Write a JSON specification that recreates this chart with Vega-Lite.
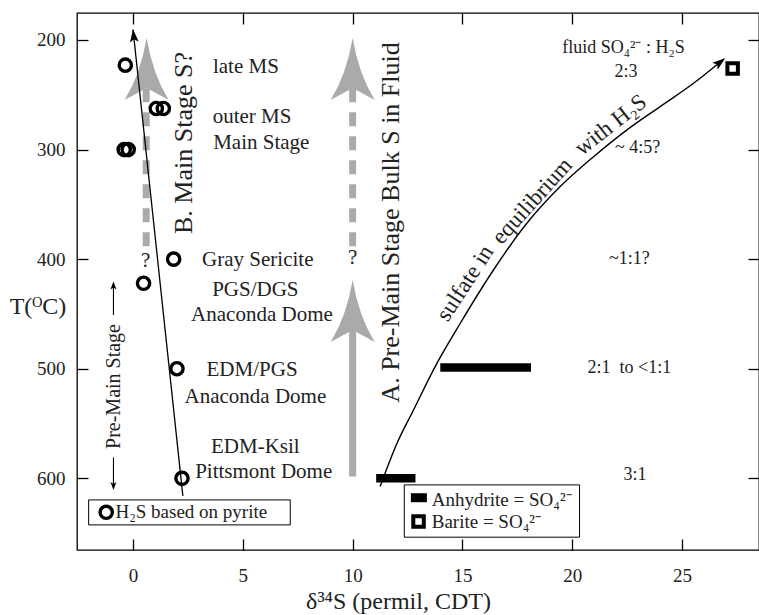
{
  "$schema": "https://vega.github.io/schema/vega-lite/v6.json",
  "width": 682,
  "height": 537,
  "autosize": "none",
  "padding": {"left": 77, "top": 13, "right": 0, "bottom": 65},
  "background": "white",
  "config": {
    "view": {"stroke": "black", "strokeWidth": 1.3},
    "font": "Liberation Serif",
    "axis": {
      "domain": false, "grid": false, "tickColor": "black", "tickWidth": 1.3, "tickSize": -11,
      "labelFont": "Liberation Serif", "labelFontSize": 19, "labelColor": "#222",
      "titleFont": "Liberation Serif", "titleFontWeight": "normal", "titleColor": "#222", "titleFontSize": 24
    }
  },
  "datasets": {
    "dashedShafts": [{"d": 10, "T": 244, "T2": 391.5}, {"d": 0.6, "T": 244, "T2": 390}],
    "solidShafts": [{"d": 10, "T": 464, "T2": 598.3}],
    "grayHeads": [{"d": 10, "T": 198.2}, {"d": 10, "T": 419}, {"d": 0.62, "T": 198.2}],
    "questions": [{"d": 10, "T": 399, "label": "?"}, {"d": 0.58, "T": 402, "label": "?"}],
    "h2sTrend": [{"d": 2.27, "T": 616}, {"d": 0.0, "T": 190.5}],
    "h2sTip": [{"d": 0.0, "T": 190.2}],
    "sulfateCurve": [
      {"d": 11.25, "T": 607.5}, {"d": 12.02, "T": 568}, {"d": 12.77, "T": 537.6}, {"d": 13.84, "T": 494.9},
      {"d": 14.9, "T": 458.5}, {"d": 16.41, "T": 409.9}, {"d": 17.93, "T": 367.3}, {"d": 19.45, "T": 333.8},
      {"d": 20.97, "T": 306.5}, {"d": 22.49, "T": 282}, {"d": 24.0, "T": 260.8}, {"d": 25.52, "T": 239.5},
      {"d": 26.9, "T": 217.3}
    ],
    "sulfateTip": [{"d": 26.96, "T": 216.7}],
    "anhydrite": [{"d": 11.07, "d2": 12.86, "T": 600}, {"d": 13.99, "d2": 18.12, "T": 498.8}],
    "legendBoxes": [{"d": -2.02, "d2": 7.16, "T": 619.7, "T2": 642.5}, {"d": 12.35, "d2": 20.33, "T": 606, "T2": 653.7}],
    "legendAnhydrite": [{"d": 12.65, "d2": 13.38, "T": 613.6, "T2": 621.8}],
    "pyrite": [
      {"d": -0.35, "T": 223}, {"d": 1.06, "T": 262.5}, {"d": 1.38, "T": 262.5}, {"d": -0.4, "T": 300},
      {"d": -0.22, "T": 300}, {"d": 1.85, "T": 400}, {"d": 0.48, "T": 422}, {"d": 2.0, "T": 500}, {"d": 2.23, "T": 600}
    ],
    "legendPyrite": [{"d": -1.22, "T": 631}],
    "barite": [{"d": 27.3, "T": 226}, {"d": 13.0, "T": 639.5}],
    "stageLabels": [
      {"d": 5.14, "T": 224.4, "label": "late MS"},
      {"d": 5.42, "T": 270, "label": "outer MS"},
      {"d": 5.84, "T": 293.7, "label": "Main Stage"},
      {"d": 5.68, "T": 400.7, "label": "Gray Sericite"},
      {"d": 5.57, "T": 428, "label": "PGS/DGS"},
      {"d": 5.87, "T": 451, "label": "Anaconda Dome"},
      {"d": 5.42, "T": 501, "label": "EDM/PGS"},
      {"d": 5.57, "T": 525.5, "label": "Anaconda Dome"},
      {"d": 5.57, "T": 571, "label": "EDM-Ksil"},
      {"d": 5.95, "T": 594, "label": "Pittsmont Dome"}
    ],
    "ratios": [
      {"d": 22.33, "T": 207.6, "label": "fluid SO₄²⁻ : H₂S"},
      {"d": 22.45, "T": 228.9, "label": "2:3"},
      {"d": 22.97, "T": 298.3, "label": "~ 4:5?"},
      {"d": 22.6, "T": 400, "label": "~1:1?"},
      {"d": 22.6, "T": 499.6, "label": "2:1\u00a0\u00a0to <1:1"},
      {"d": 22.85, "T": 597, "label": "3:1"}
    ],
    "legendTexts": [
      {"d": -0.8, "T": 631, "label": "H₂S based on pyrite"},
      {"d": 13.6, "T": 619.7, "label": "Anhydrite = SO₄²⁻"},
      {"d": 13.6, "T": 639.5, "label": "Barite = SO₄²⁻"}
    ],
    "bigVertical": [
      {"d": 12.1, "T": 366.5, "label": "A. Pre-Main Stage Bulk S in Fluid"},
      {"d": 2.68, "T": 294, "label": "B. Main Stage S?"}
    ],
    "preMainText": [{"d": -0.61, "T": 516.2, "label": "Pre-Main Stage"}],
    "preMainLines": [{"d": -0.89, "T": 451, "T2": 422}, {"d": -0.89, "T": 581, "T2": 609}],
    "preMainUp": [{"d": -0.89, "T": 420.5}],
    "preMainDown": [{"d": -0.89, "T": 610.6}],
    "sulf1": [{"d": 15.12, "T": 422, "label": "sulfate in"}],
    "sulf2": [{"d": 18.17, "T": 347, "label": "equilibrium"}],
    "sulf3": [{"d": 21.75, "T": 277.5, "label": "with H₂S"}]
  },
  "resolve": {"axis": {"x": "independent", "y": "independent"}},
  "layer": [
    {
      "data": {"name": "dashedShafts"},
      "mark": {"type": "rule", "color": "#aaaaaa", "strokeWidth": 7, "strokeDash": [14, 10]},
      "encoding": {
        "x": {"field": "d", "type": "quantitative",
              "scale": {"domain": [-2.55, 28.5], "nice": false, "zero": false},
              "axis": {"orient": "bottom", "values": [0, 5, 10, 15, 20, 25], "labelPadding": 27,
                       "title": "δ³⁴S (permil, CDT)", "titleX": 321, "titleY": 58, "titleBaseline": "alphabetic"}},
        "y": {"field": "T", "type": "quantitative",
              "scale": {"domain": [175.4, 665.4], "reverse": true, "nice": false, "zero": false},
              "axis": {"orient": "left", "values": [200, 300, 400, 500, 600], "labelPadding": 23,
                       "title": "T(ᴼC)", "titleAngle": 0, "titleX": -39.5, "titleY": 300, "titleAlign": "center", "titleBaseline": "alphabetic"}},
        "y2": {"field": "T2"}
      }
    },
    {
      "data": {"name": "solidShafts"},
      "mark": {"type": "rule", "color": "#aaaaaa", "strokeWidth": 7},
      "encoding": {
        "x": {"field": "d", "type": "quantitative", "axis": {"orient": "top", "values": [0, 5, 10, 15, 20, 25], "labels": false, "title": null}},
        "y": {"field": "T", "type": "quantitative", "axis": {"orient": "right", "values": [200, 300, 400, 500, 600], "labels": false, "title": null}},
        "y2": {"field": "T2"}
      }
    },
    {
      "data": {"name": "grayHeads"},
      "mark": {"type": "point", "shape": "M0,0 Q6,36 22,62 L0,50 L-22,62 Q-6,36 0,0 Z", "size": 4, "filled": true, "fill": "#aaaaaa", "strokeWidth": 0, "opacity": 1},
      "encoding": {
        "x": {"field": "d", "type": "quantitative", "axis": null},
        "y": {"field": "T", "type": "quantitative", "axis": null}
      }
    },
    {
      "data": {"name": "questions"},
      "mark": {"type": "text", "font": "Liberation Serif", "fontSize": 21, "color": "#222", "align": "center", "baseline": "middle"},
      "encoding": {
        "x": {"field": "d", "type": "quantitative", "axis": null},
        "y": {"field": "T", "type": "quantitative", "axis": null},
        "text": {"field": "label"}
      }
    },
    {
      "data": {"name": "h2sTrend"},
      "mark": {"type": "line", "color": "black", "strokeWidth": 1.3},
      "encoding": {
        "x": {"field": "d", "type": "quantitative", "axis": null},
        "y": {"field": "T", "type": "quantitative", "axis": null}
      }
    },
    {
      "data": {"name": "sulfateCurve"},
      "mark": {"type": "line", "color": "black", "strokeWidth": 1.4, "interpolate": "monotone"},
      "encoding": {
        "x": {"field": "d", "type": "quantitative", "axis": null},
        "y": {"field": "T", "type": "quantitative", "axis": null}
      }
    },
    {
      "data": {"name": "h2sTip"},
      "mark": {"type": "point", "shape": "M0,0 L2.2,6.5 L0,5 L-2.2,6.5 Z", "size": 16, "filled": true, "fill": "black", "strokeWidth": 0, "opacity": 1, "angle": 354},
      "encoding": {
        "x": {"field": "d", "type": "quantitative", "axis": null},
        "y": {"field": "T", "type": "quantitative", "axis": null}
      }
    },
    {
      "data": {"name": "sulfateTip"},
      "mark": {"type": "point", "shape": "M0,0 L2.2,6.5 L0,5 L-2.2,6.5 Z", "size": 16, "filled": true, "fill": "black", "strokeWidth": 0, "opacity": 1, "angle": 52},
      "encoding": {
        "x": {"field": "d", "type": "quantitative", "axis": null},
        "y": {"field": "T", "type": "quantitative", "axis": null}
      }
    },
    {
      "data": {"name": "anhydrite"},
      "mark": {"type": "rule", "color": "black", "strokeWidth": 8.5, "strokeCap": "butt"},
      "encoding": {
        "x": {"field": "d", "type": "quantitative", "axis": null},
        "x2": {"field": "d2"},
        "y": {"field": "T", "type": "quantitative", "axis": null}
      }
    },
    {
      "data": {"name": "legendBoxes"},
      "mark": {"type": "rect", "fill": "white", "stroke": "black", "strokeWidth": 1},
      "encoding": {
        "x": {"field": "d", "type": "quantitative", "axis": null},
        "x2": {"field": "d2"},
        "y": {"field": "T", "type": "quantitative", "axis": null},
        "y2": {"field": "T2"}
      }
    },
    {
      "data": {"name": "legendAnhydrite"},
      "mark": {"type": "rect", "fill": "black"},
      "encoding": {
        "x": {"field": "d", "type": "quantitative", "axis": null},
        "x2": {"field": "d2"},
        "y": {"field": "T", "type": "quantitative", "axis": null},
        "y2": {"field": "T2"}
      }
    },
    {
      "data": {"name": "pyrite"},
      "mark": {"type": "point", "shape": "circle", "filled": false, "stroke": "black", "strokeWidth": 3.4, "size": 150, "opacity": 1},
      "encoding": {
        "x": {"field": "d", "type": "quantitative", "axis": null},
        "y": {"field": "T", "type": "quantitative", "axis": null}
      }
    },
    {
      "data": {"name": "legendPyrite"},
      "mark": {"type": "point", "shape": "circle", "filled": false, "stroke": "black", "strokeWidth": 3.4, "size": 150, "opacity": 1},
      "encoding": {
        "x": {"field": "d", "type": "quantitative", "axis": null},
        "y": {"field": "T", "type": "quantitative", "axis": null}
      }
    },
    {
      "data": {"name": "barite"},
      "mark": {"type": "point", "shape": "square", "filled": false, "stroke": "black", "strokeWidth": 4, "size": 110, "opacity": 1},
      "encoding": {
        "x": {"field": "d", "type": "quantitative", "axis": null},
        "y": {"field": "T", "type": "quantitative", "axis": null}
      }
    },
    {
      "data": {"name": "stageLabels"},
      "mark": {"type": "text", "font": "Liberation Serif", "fontSize": 21, "color": "#222", "align": "center", "baseline": "middle"},
      "encoding": {
        "x": {"field": "d", "type": "quantitative", "axis": null},
        "y": {"field": "T", "type": "quantitative", "axis": null},
        "text": {"field": "label"}
      }
    },
    {
      "data": {"name": "ratios"},
      "mark": {"type": "text", "font": "Liberation Serif", "fontSize": 18, "color": "#222", "align": "center", "baseline": "middle"},
      "encoding": {
        "x": {"field": "d", "type": "quantitative", "axis": null},
        "y": {"field": "T", "type": "quantitative", "axis": null},
        "text": {"field": "label"}
      }
    },
    {
      "data": {"name": "legendTexts"},
      "mark": {"type": "text", "font": "Liberation Serif", "fontSize": 19, "color": "#222", "align": "left", "baseline": "middle"},
      "encoding": {
        "x": {"field": "d", "type": "quantitative", "axis": null},
        "y": {"field": "T", "type": "quantitative", "axis": null},
        "text": {"field": "label"}
      }
    },
    {
      "data": {"name": "bigVertical"},
      "mark": {"type": "text", "font": "Liberation Serif", "fontSize": 26, "color": "#222", "align": "center", "baseline": "alphabetic", "angle": 270},
      "encoding": {
        "x": {"field": "d", "type": "quantitative", "axis": null},
        "y": {"field": "T", "type": "quantitative", "axis": null},
        "text": {"field": "label"}
      }
    },
    {
      "data": {"name": "preMainText"},
      "mark": {"type": "text", "font": "Liberation Serif", "fontSize": 20, "color": "#222", "align": "center", "baseline": "alphabetic", "angle": 270},
      "encoding": {
        "x": {"field": "d", "type": "quantitative", "axis": null},
        "y": {"field": "T", "type": "quantitative", "axis": null},
        "text": {"field": "label"}
      }
    },
    {
      "data": {"name": "preMainLines"},
      "mark": {"type": "rule", "color": "black", "strokeWidth": 1.1},
      "encoding": {
        "x": {"field": "d", "type": "quantitative", "axis": null},
        "y": {"field": "T", "type": "quantitative", "axis": null},
        "y2": {"field": "T2"}
      }
    },
    {
      "data": {"name": "preMainUp"},
      "mark": {"type": "point", "shape": "M0,0 L3,8 L0,6 L-3,8 Z", "size": 4, "filled": true, "fill": "black", "strokeWidth": 0, "opacity": 1},
      "encoding": {
        "x": {"field": "d", "type": "quantitative", "axis": null},
        "y": {"field": "T", "type": "quantitative", "axis": null}
      }
    },
    {
      "data": {"name": "preMainDown"},
      "mark": {"type": "point", "shape": "M0,0 L3,8 L0,6 L-3,8 Z", "size": 4, "filled": true, "fill": "black", "strokeWidth": 0, "opacity": 1, "angle": 180},
      "encoding": {
        "x": {"field": "d", "type": "quantitative", "axis": null},
        "y": {"field": "T", "type": "quantitative", "axis": null}
      }
    },
    {
      "data": {"name": "sulf1"},
      "mark": {"type": "text", "font": "Liberation Serif", "fontSize": 23, "color": "#222", "align": "center", "baseline": "middle", "angle": 303},
      "encoding": {
        "x": {"field": "d", "type": "quantitative", "axis": null},
        "y": {"field": "T", "type": "quantitative", "axis": null},
        "text": {"field": "label"}
      }
    },
    {
      "data": {"name": "sulf2"},
      "mark": {"type": "text", "font": "Liberation Serif", "fontSize": 23, "color": "#222", "align": "center", "baseline": "middle", "angle": 312},
      "encoding": {
        "x": {"field": "d", "type": "quantitative", "axis": null},
        "y": {"field": "T", "type": "quantitative", "axis": null},
        "text": {"field": "label"}
      }
    },
    {
      "data": {"name": "sulf3"},
      "mark": {"type": "text", "font": "Liberation Serif", "fontSize": 23, "color": "#222", "align": "center", "baseline": "middle", "angle": 322},
      "encoding": {
        "x": {"field": "d", "type": "quantitative", "axis": null},
        "y": {"field": "T", "type": "quantitative", "axis": null},
        "text": {"field": "label"}
      }
    }
  ]
}
